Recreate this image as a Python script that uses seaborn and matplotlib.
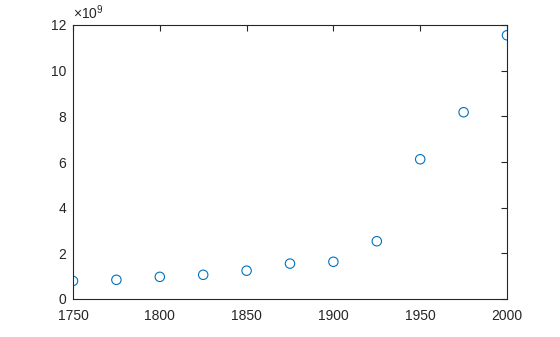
import matplotlib
matplotlib.use("Agg")
import matplotlib.pyplot as plt
import seaborn as sns
import pandas as pd

years = [1750, 1775, 1800, 1825, 1850, 1875, 1900, 1925, 1950, 1975, 2000]
population_billions = [0.79, 0.84, 0.97, 1.06, 1.24, 1.55, 1.63, 2.53, 6.12, 8.18, 11.55]
x_ticks = [1750, 1800, 1850, 1900, 1950, 2000]
y_ticks = [0, 2, 4, 6, 8, 10, 12]

sns.set_style("white")
plt.rcParams['font.family'] = ['Liberation Sans', 'DejaVu Sans']
plt.rcParams['mathtext.fontset'] = 'custom'
plt.rcParams['mathtext.rm'] = 'Liberation Sans'

df = pd.DataFrame({"year": years, "pop": population_billions})

fig = plt.figure(figsize=(5.6, 3.37), dpi=100)
ax = fig.add_axes([73/560, 38/337, 434/560, 274/337])

sns.scatterplot(data=df, x="year", y="pop", ax=ax, marker="o", s=46,
                facecolor="none", edgecolor="#0072BD", linewidth=0.8, legend=False)

ax.set_xlim(1750, 2000)
ax.set_ylim(0, 12)
ax.set_xticks(x_ticks)
ax.set_yticks(y_ticks)
ax.set_xlabel("")
ax.set_ylabel("")
ax.tick_params(direction="in", length=4, width=0.8, colors="#262626",
               labelsize=10, top=True, right=True)
ax.tick_params(axis="x", pad=7)
ax.tick_params(axis="y", pad=5)
ax.tick_params(axis="both", labelcolor="#262626")
for sp in ax.spines.values():
    sp.set_color("#262626")
    sp.set_linewidth(0.8)
    sp.set_visible(True)

ax.text(0.0, 1.01, r"$\times10^{9}$", transform=ax.transAxes, ha="left", va="bottom",
        fontsize=10, color="#262626")

fig.savefig("out.png", dpi=100)
